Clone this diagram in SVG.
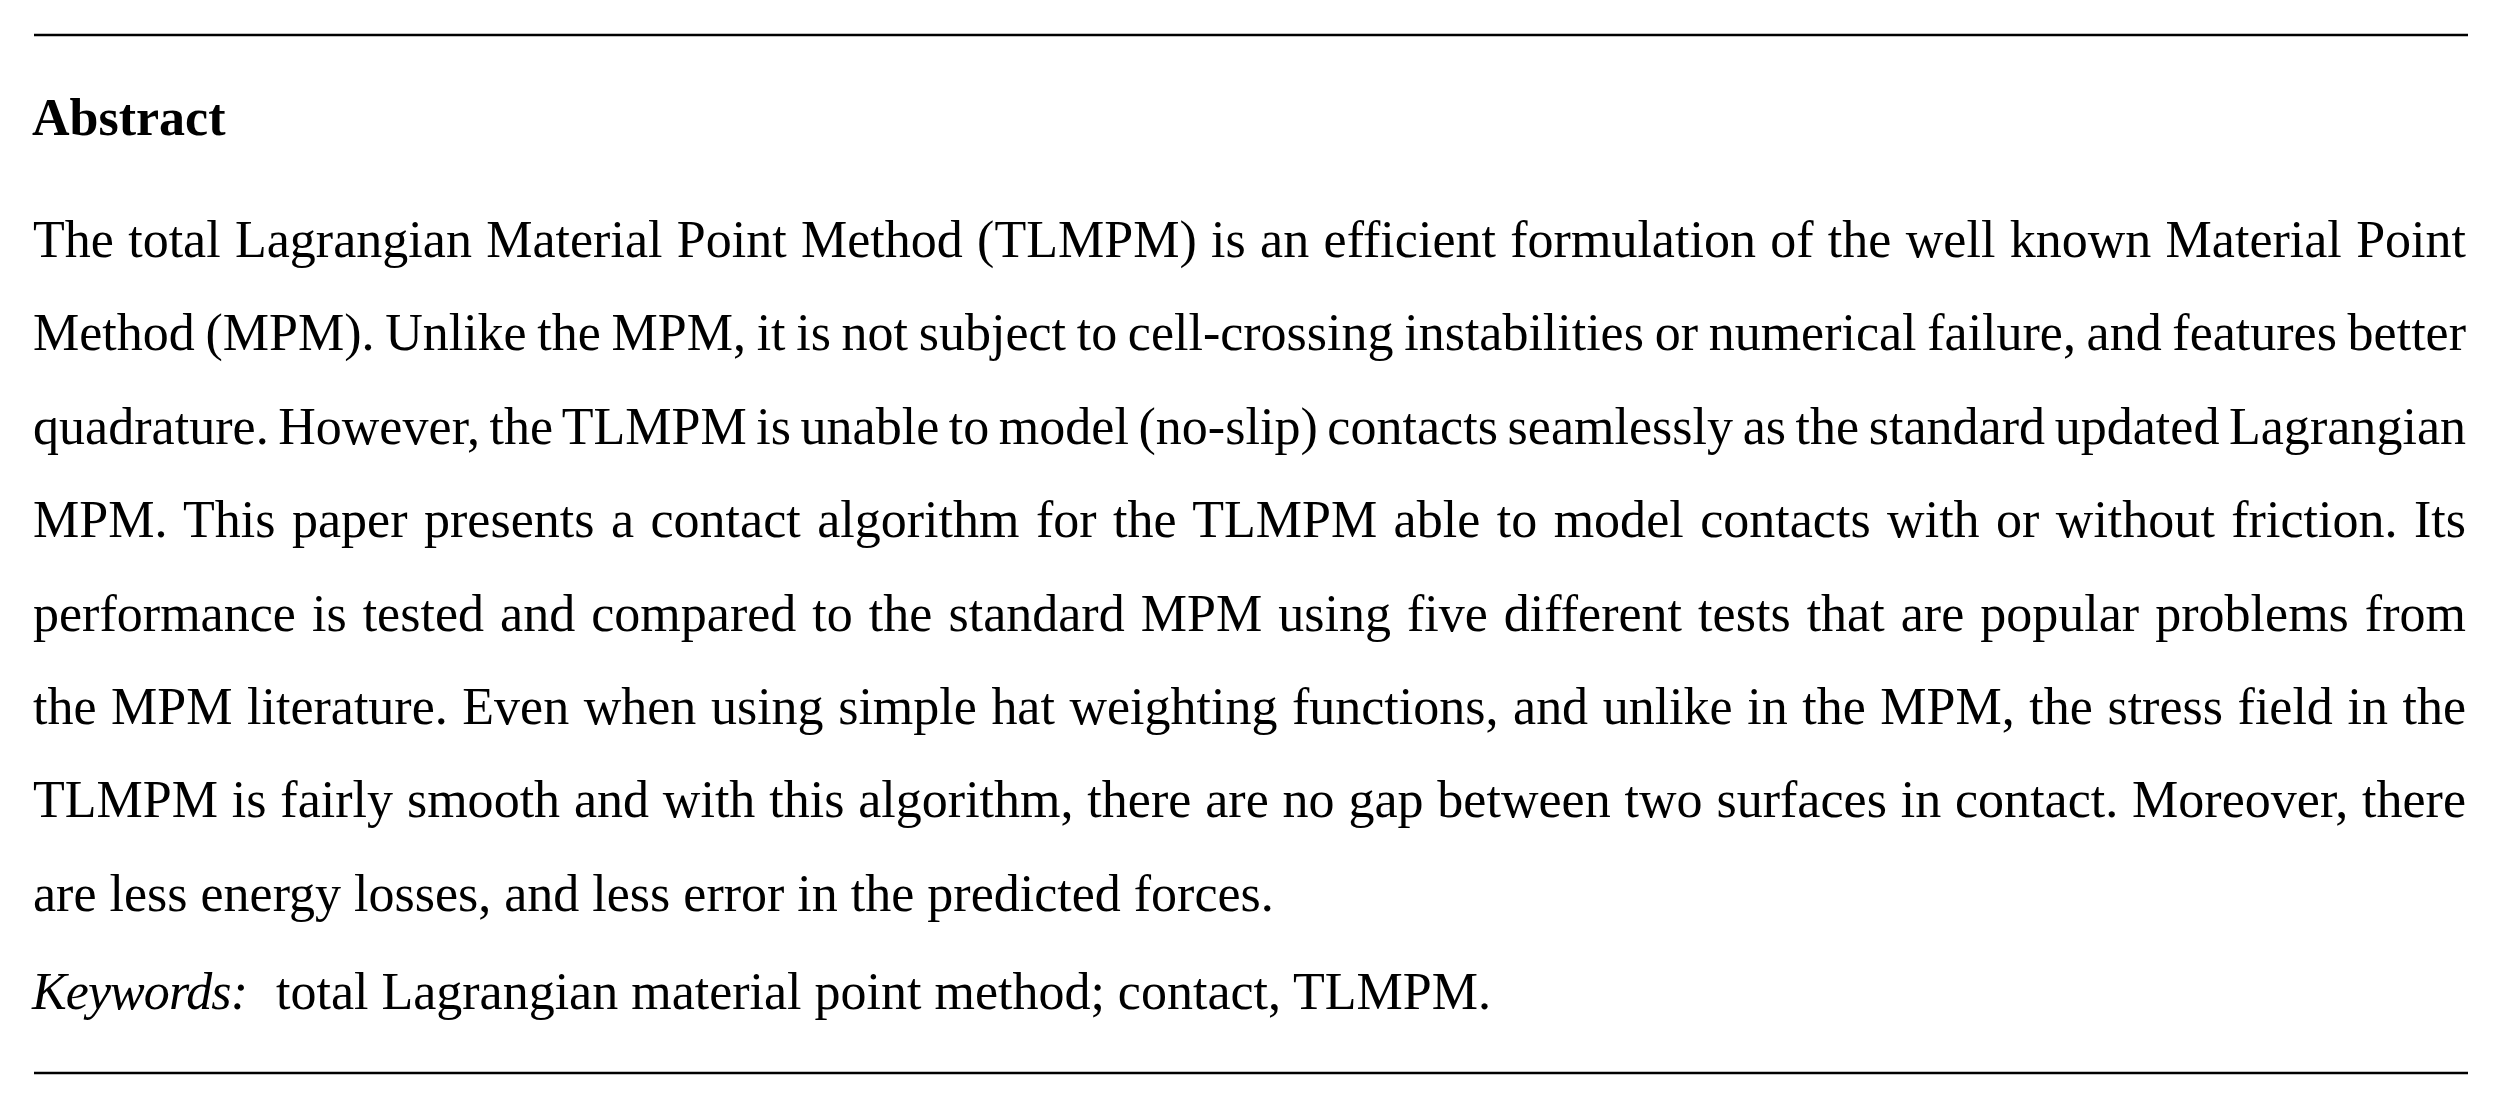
<svg xmlns="http://www.w3.org/2000/svg" width="2498" height="1102" viewBox="0 0 2498 1102">
  <style>
    .rule { stroke: #000; stroke-width: 2.5; }
    .head { font-family: "Liberation Serif", "Times New Roman", serif; font-size: 52px; font-weight: bold; fill: #000; }
    .body { font-family: "Liberation Serif", "Times New Roman", serif; font-size: 52px; fill: #000; }
    .kw { font-family: "Liberation Serif", "Times New Roman", serif; font-size: 52px; font-style: italic; fill: #000; }
  </style>
  <rect width="2498" height="1102" fill="#fff"/>
  <g id="rules">
    <line class="rule" x1="34" y1="35" x2="2468" y2="35"/>
    <line class="rule" x1="34" y1="1073" x2="2468" y2="1073"/>
  </g>
  <g id="heading">
    <text class="head" x="32" y="135">Abstract</text>
  </g>
  <g id="abstract-text">
    <text class="body" x="33" y="257" word-spacing="1.3" textLength="2433" lengthAdjust="spacing">The total Lagrangian Material Point Method (TLMPM) is an efficient formulation of the well known Material Point</text>
    <text class="body" x="33" y="350.4" word-spacing="-2.3" textLength="2433" lengthAdjust="spacing">Method (MPM). Unlike the MPM, it is not subject to cell-crossing instabilities or numerical failure, and features better</text>
    <text class="body" x="33" y="443.8" word-spacing="-3.5" textLength="2433" lengthAdjust="spacing">quadrature. However, the TLMPM is unable to model (no-slip) contacts seamlessly as the standard updated Lagrangian</text>
    <text class="body" x="33" y="537.2" word-spacing="3.4" textLength="2433" lengthAdjust="spacing">MPM. This paper presents a contact algorithm for the TLMPM able to model contacts with or without friction. Its</text>
    <text class="body" x="33" y="630.6" word-spacing="3.0" textLength="2433" lengthAdjust="spacing">performance is tested and compared to the standard MPM using five different tests that are popular problems from</text>
    <text class="body" x="33" y="724" word-spacing="1.6" textLength="2433" lengthAdjust="spacing">the MPM literature. Even when using simple hat weighting functions, and unlike in the MPM, the stress field in the</text>
    <text class="body" x="33" y="817.4" word-spacing="0.8" textLength="2433" lengthAdjust="spacing">TLMPM is fairly smooth and with this algorithm, there are no gap between two surfaces in contact. Moreover, there</text>
    <text class="body" x="33" y="910.8">are less energy losses, and less error in the predicted forces.</text>
  </g>
  <g id="keywords">
    <text class="kw" x="32" y="1009" textLength="216" lengthAdjust="spacing">Keywords:</text>
    <text class="body" x="276" y="1009">total Lagrangian material point method; contact, TLMPM.</text>
  </g>
</svg>
